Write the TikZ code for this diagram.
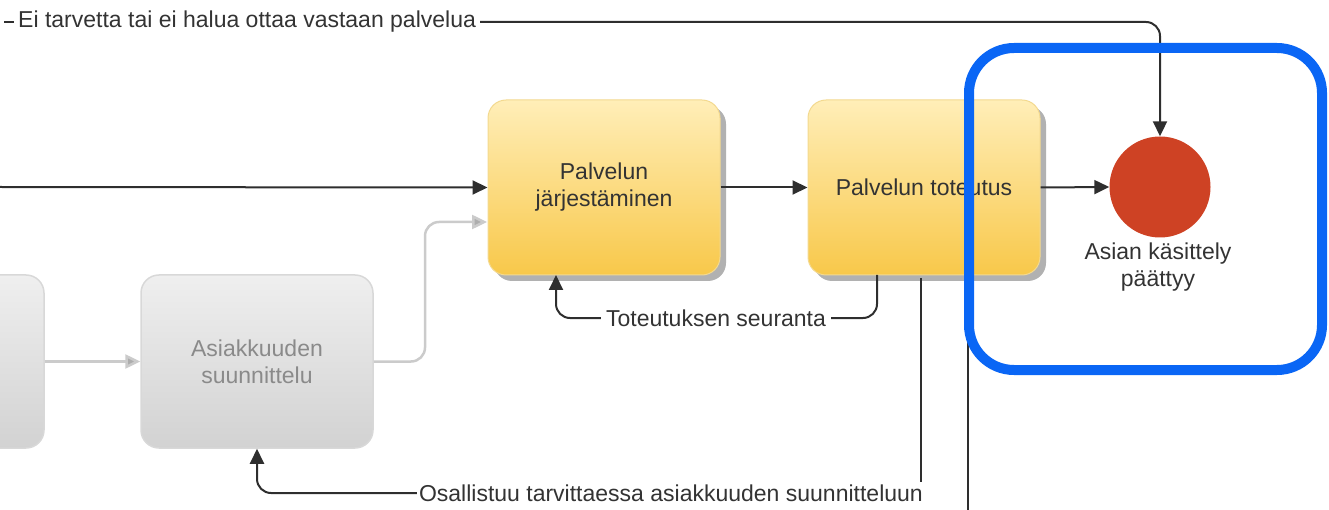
\documentclass[tikz,border=0pt]{standalone}
\usepackage{fontspec}
\setmainfont{Liberation Sans}
\usetikzlibrary{arrows.meta,calc,shadows}
\definecolor{ink}{HTML}{333333}
\definecolor{conn}{HTML}{2E2E2E}
\definecolor{yTop}{HTML}{FFEEB8}
\definecolor{yBot}{HTML}{F8C84A}
\definecolor{yEdge}{HTML}{F3D98F}
\definecolor{gTop}{HTML}{EFEFEF}
\definecolor{gBot}{HTML}{D2D2D2}
\definecolor{gEdge}{HTML}{D8D8D8}
\definecolor{gText}{HTML}{8A8A8A}
\definecolor{gLine}{HTML}{CBCBCB}
\definecolor{endRed}{RGB}{206,66,36}
\definecolor{hiBlue}{HTML}{0A66F5}
\newcommand{\lblfont}{\fontsize{23}{27}\selectfont}
\begin{document}
\begin{tikzpicture}[x=1pt,y=-1pt,
  ybox/.style={rectangle, rounded corners=18pt, minimum width=232pt, minimum height=175pt,
    inner sep=0pt, top color=yTop, bottom color=yBot, draw=yEdge, line width=1pt,
    align=center, text=ink, font=\lblfont,
    drop shadow={shadow xshift=6pt, shadow yshift=-6pt, fill=black!38, opacity=0.8}},
  gbox/.style={rectangle, rounded corners=18pt, minimum width=232pt, minimum height=173pt,
    inner sep=0pt, top color=gTop, bottom color=gBot, draw=gEdge, line width=1.5pt,
    align=center, text=gText, font=\lblfont},
  lbl/.style={text=ink, font=\lblfont, inner sep=5pt},
  flow/.style={draw=conn, line width=2pt, rounded corners=14pt},
  flowarr/.style={flow, -{Triangle[length=15pt,width=14pt]}},
  gflow/.style={draw=gLine, line width=2.5pt, rounded corners=14pt,
    -{Triangle[length=15pt,width=14pt,fill=gLine!85!black]}},
  endev/.style={circle, fill=endRed, minimum size=101pt, inner sep=0pt},
  hilite/.style={draw=hiBlue, line width=10pt, rounded corners=45pt}
]
\useasboundingbox (0,0) rectangle (1329,510);
\clip (0,0) rectangle (1329,510);

% nodes
\node[gbox] (gl) at (-72,361.5) {};
\node[gbox] (g) at (257,361.5) {Asiakkuuden\\suunnittelu};
\node[ybox] (b1) at (604,187.5) {Palvelun\\järjestäminen};
\node[ybox] (b2) at (924,187.5) {Palvelun toteutus};
\node[endev] (c) at (1160,187) {};
\node[lbl, align=center, anchor=north, inner sep=2pt] (cl) at (1158,241) {Asian käsittely\\päättyy};

\node[lbl, anchor=west, inner sep=4pt] (t1) at (14,22) {Ei tarvetta tai ei halua ottaa vastaan palvelua};
\node[lbl] (t2) at (716,318) {Toteutuksen seuranta};
\node[lbl, anchor=east, inner sep=2pt] (t3) at (925,493) {Osallistuu tarvittaessa asiakkuuden suunnitteluun};

\coordinate (L) at (0,187);
\coordinate (T) at (4,22);
\coordinate (B) at (968,510);
\coordinate (gin) at (487,222);

% connectors
\draw[flowarr] (L) -- (b1.west);
\draw[gflow] (gl.east) -- (g.west);
\draw[gflow] (g.east) -- (425,361.5) -- (425,222) -- (gin);
\draw[flowarr] (b1.east) -- (b2.west);
\draw[flowarr] (b2.east) -- (c.west);
\draw[flow] (T) -- (t1.west);
\draw[flowarr] (t1.east) -- (1160,22) -- (c.north);
\draw[flow] (877,275) -- (877,318) -- (t2.east);
\draw[flowarr] (t2.west) -- (556,318) -- (556,275);
\draw[flow] (921,278) -- (t3.north east -| 921,0);
\draw[flowarr] (t3.west) -- (257,493) -- (g.south);
\draw[flow] (968,340) -- (B);

% highlight
\draw[hilite] (969,48) rectangle (1322,370);
\end{tikzpicture}
\end{document}
